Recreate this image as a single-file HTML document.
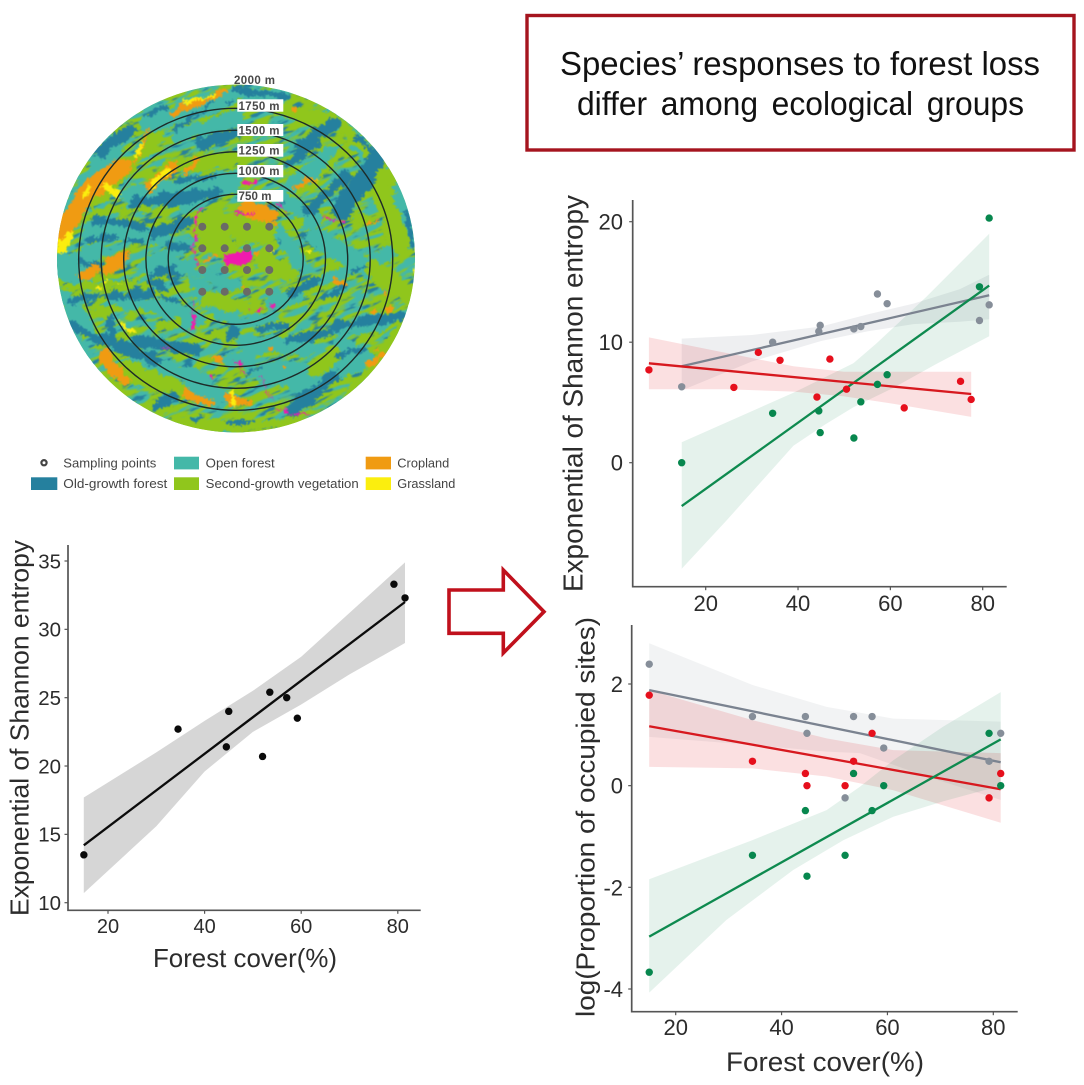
<!DOCTYPE html>
<html lang="en">
<head>
<meta charset="utf-8">
<title>Species' responses to forest loss</title>
<style>
html,body{margin:0;padding:0;background:#fff;}
svg{display:block;font-family:"Liberation Sans",sans-serif;}
#map-patches path{fill:none;stroke-linecap:round;stroke-linejoin:round;}
.t path{stroke:#44b8a8}.d path{stroke:#25809e}.o path{stroke:#f09b12}.y path{stroke:#fbee0e}.g path{stroke:#90c61c}.m path{stroke:#f01aae}
.ax{stroke:#555;stroke-width:1.7;fill:none}
.legend text{font-size:13px;fill:#444}
.ring{fill:none;stroke:#1d2b28;stroke-width:1.4}
.rl{font-size:11.5px;font-weight:bold;fill:#484848}
</style>
</head>
<body>
<svg id="figure" width="1084" height="1085" viewBox="0 0 1084 1085" xmlns="http://www.w3.org/2000/svg">
<defs>
<clipPath id="mapClip"><ellipse cx="236" cy="258.5" rx="179" ry="174"/></clipPath>
<filter id="rough" filterUnits="userSpaceOnUse" x="30" y="60" width="410" height="400" color-interpolation-filters="sRGB">
<feTurbulence type="fractalNoise" baseFrequency="0.09" numOctaves="2" seed="7" result="n1"/>
<feDisplacementMap in="SourceGraphic" in2="n1" scale="11" xChannelSelector="R" yChannelSelector="G" result="s1"/>
<feTurbulence type="fractalNoise" baseFrequency="0.38" numOctaves="2" seed="3" result="n2"/>
<feDisplacementMap in="s1" in2="n2" scale="7" xChannelSelector="G" yChannelSelector="R"/>
<feGaussianBlur stdDeviation="0.45"/>
</filter>
<filter id="speckleTeal" filterUnits="userSpaceOnUse" x="-100" y="-100" width="700" height="700" color-interpolation-filters="sRGB">
<feTurbulence type="fractalNoise" baseFrequency="0.035 0.13" numOctaves="3" seed="11"/>
<feColorMatrix type="matrix" values="0 0 0 0 .267  0 0 0 0 .722  0 0 0 0 .659  9 0 0 0 -4.3"/>
<feGaussianBlur stdDeviation="0.4"/>
</filter>
<filter id="speckleDark" filterUnits="userSpaceOnUse" x="-100" y="-100" width="700" height="700" color-interpolation-filters="sRGB">
<feTurbulence type="fractalNoise" baseFrequency="0.05 0.2" numOctaves="3" seed="23"/>
<feColorMatrix type="matrix" values="0 0 0 0 .145  0 0 0 0 .502  0 0 0 0 .62  9 0 0 0 -5.6"/>
<feGaussianBlur stdDeviation="0.4"/>
</filter>
</defs>

<rect width="1084" height="1085" fill="#fff"/>

<!-- Land cover map -->
<g clip-path="url(#mapClip)">
<ellipse cx="236" cy="258.5" rx="179" ry="174" fill="#90c61c"/>
<g transform="rotate(-22 236 258)">
<rect x="20" y="40" width="440" height="440" fill="#000" filter="url(#speckleTeal)"/>
<rect x="20" y="40" width="440" height="440" fill="#000" filter="url(#speckleDark)"/>
</g>
<g id="map-patches" filter="url(#rough)">
<g transform="translate(50,80) scale(.3333)">
<g class="t">
<path stroke-width="60" d="M45 420L190 210"/><path stroke-width="60" d="M300 130L540 50"/><path stroke-width="50" d="M20 560L150 510"/>
<path stroke-width="70" d="M250 350L540 310"/><path stroke-width="50" d="M120 450L340 470"/><path stroke-width="40" d="M300 550L420 490"/>
<path stroke-width="30" d="M400 380L460 350"/><path stroke-width="40" d="M380 170L560 110"/>
</g>
<g class="g">
<path stroke-width="70" d="M440 430L560 540"/><path stroke-width="40" d="M350 260L550 240"/><path stroke-width="32" d="M130 370L330 170"/><path stroke-width="15" d="M130 395L300 385"/>
</g>
<g class="o">
<path stroke-width="55" d="M30 470L110 340L215 262"/><path stroke-width="20" d="M370 100L530 30"/><path stroke-width="30" d="M180 550L225 525"/>
<path stroke-width="10" d="M250 250L300 150"/><path stroke-width="30" d="M300 320L370 260"/><path stroke-width="15" d="M410 280L440 240"/>
</g>
<g class="y">
<path stroke-width="25" d="M25 510L60 470"/><path stroke-width="25" d="M165 320L205 345"/><path stroke-width="8" d="M100 350L120 320"/>
<path stroke-width="18" d="M300 320L350 275"/><path stroke-width="10" d="M255 240L275 190"/><path stroke-width="8" d="M400 70L500 40"/>
</g>
<g class="d">
<path stroke-width="34" d="M150 215L240 150"/><path stroke-width="14" d="M290 105L350 80"/><path stroke-width="12" d="M375 150L450 100"/>
<path stroke-width="38" d="M460 190L560 160"/><path stroke-width="10" d="M420 120L490 70"/><path stroke-width="16" d="M380 300L500 290"/>
<path stroke-width="32" d="M250 370L500 340"/><path stroke-width="26" d="M135 420L280 440"/><path stroke-width="34" d="M310 460L420 425"/>
<path stroke-width="18" d="M110 480L200 470"/><path stroke-width="20" d="M90 545L150 558"/><path stroke-width="22" d="M350 500L420 505"/>
<path stroke-width="28" d="M310 555L350 550"/><path stroke-width="14" d="M230 480L270 485"/><path stroke-width="25" d="M540 60L560 40"/>
</g>
</g>
<g transform="translate(230,80) scale(.3333)">
<g class="t">
<path stroke-width="40" d="M0 40L160 50"/><path stroke-width="50" d="M190 310L300 225"/><path stroke-width="45" d="M370 170L540 400"/>
<path stroke-width="50" d="M150 350L250 420"/><path stroke-width="30" d="M130 450L230 560"/><path stroke-width="60" d="M260 470L420 570"/>
<path stroke-width="40" d="M440 540L540 480"/><path stroke-width="40" d="M510 430L550 470"/>
</g>
<g class="g">
<path stroke-width="60" d="M440 280L510 490"/><path stroke-width="30" d="M310 105L490 300"/><path stroke-width="40" d="M150 90L300 120"/>
<path stroke-width="25" d="M340 400L420 420"/><path stroke-width="16" d="M250 320L360 180"/><path stroke-width="30" d="M130 440L210 430"/>
</g>
<g class="d">
<path stroke-width="20" d="M20 30L170 50"/><path stroke-width="30" d="M210 190L320 130"/><path stroke-width="26" d="M170 250L260 190"/>
<path stroke-width="58" d="M335 390L435 245"/><path stroke-width="30" d="M290 340L350 290"/><path stroke-width="24" d="M230 400L290 340"/>
<path stroke-width="14" d="M530 400L550 500"/><path stroke-width="20" d="M380 175L430 215"/><path stroke-width="6" d="M130 390L170 370"/><path stroke-width="6" d="M145 480L170 490"/>
</g>
<g class="o">
<path stroke-width="16" d="M200 320L250 300"/><path stroke-width="8" d="M190 85L200 80"/><path stroke-width="12" d="M420 430L440 425"/><path stroke-width="40" d="M60 400L120 440"/>
</g>
<g class="y">
<path stroke-width="8" d="M255 297h1"/><path stroke-width="10" d="M125 520h1"/><path stroke-width="8" d="M230 515h1"/>
</g>
<g class="m">
<path stroke-width="4" d="M270 415L290 420L345 425"/><path stroke-width="3" d="M140 370L165 395"/><path stroke-width="10" d="M45 305L70 302"/><path stroke-width="4" d="M20 400L70 400"/>
</g>
</g>
<g transform="translate(50,260) scale(.3333)">
<g class="t">
<path stroke-width="55" d="M20 20L100 50"/><path stroke-width="50" d="M30 100L120 210"/><path stroke-width="50" d="M320 140L440 180"/>
<path stroke-width="40" d="M260 300L470 360"/><path stroke-width="40" d="M420 380L560 420"/><path stroke-width="40" d="M440 100L560 190"/>
<path stroke-width="30" d="M200 130L380 150"/><path stroke-width="30" d="M60 200L110 300"/><path stroke-width="40" d="M280 20L420 10"/><path stroke-width="30" d="M420 60L470 80"/>
</g>
<g class="g">
<path stroke-width="55" d="M230 330L380 390"/><path stroke-width="40" d="M380 490L560 500"/><path stroke-width="25" d="M140 140L170 170"/>
<path stroke-width="25" d="M50 80L250 70"/><path stroke-width="30" d="M330 200L380 190"/><path stroke-width="25" d="M500 220L530 240"/>
</g>
<g class="o">
<path stroke-width="30" d="M100 50L140 30"/><path stroke-width="25" d="M170 30L220 10"/><path stroke-width="38" d="M165 290L220 360"/>
<path stroke-width="32" d="M410 400L470 430"/><path stroke-width="18" d="M490 300L570 310"/>
</g>
<g class="d">
<path stroke-width="18" d="M60 120L130 110"/><path stroke-width="26" d="M170 110L300 100"/><path stroke-width="30" d="M310 40L400 30"/>
<path stroke-width="26" d="M60 190L140 240"/><path stroke-width="36" d="M160 240L320 300"/><path stroke-width="34" d="M260 240L440 270"/>
<path stroke-width="20" d="M180 180L190 230"/><path stroke-width="28" d="M320 440L370 410"/><path stroke-width="12" d="M430 480L460 470"/>
<path stroke-width="16" d="M340 110L390 130"/><path stroke-width="25" d="M530 220L555 210"/><path stroke-width="20" d="M300 65L340 80"/>
</g>
<g class="y">
<path stroke-width="9" d="M215 190L250 215"/><path stroke-width="14" d="M150 85h1"/><path stroke-width="8" d="M205 75h1"/><path stroke-width="12" d="M540 400L545 430"/><path stroke-width="10" d="M170 65h1"/>
</g>
<g class="m">
<path stroke-width="10" d="M430 205L430 170"/><path stroke-width="16" d="M483 350h1"/><path stroke-width="3" d="M325 262L350 265"/><path stroke-width="3" d="M430 130L425 160"/><path stroke-width="10" d="M550 140L570 150"/>
</g>
</g>
<g transform="translate(230,260) scale(.3333)">
<g class="t">
<path stroke-width="60" d="M200 370L400 300"/><path stroke-width="30" d="M20 190L130 170"/><path stroke-width="55" d="M50 250L230 260"/>
<path stroke-width="40" d="M330 210L460 190"/><path stroke-width="30" d="M280 60L400 20"/><path stroke-width="40" d="M330 250L430 300"/>
<path stroke-width="40" d="M120 130L200 110"/><path stroke-width="40" d="M0 300L60 290"/><path stroke-width="70" d="M110 340L210 340"/>
</g>
<g class="g">
<path stroke-width="45" d="M260 330L310 290"/><path stroke-width="40" d="M350 430L540 180"/><path stroke-width="55" d="M430 30L540 100"/><path stroke-width="25" d="M0 505L200 485"/>
</g>
<g class="d">
<path stroke-width="40" d="M190 450L310 350"/><path stroke-width="26" d="M310 200L510 170"/><path stroke-width="26" d="M180 240L300 215"/>
<path stroke-width="20" d="M90 205L170 200"/><path stroke-width="26" d="M180 100L260 60"/><path stroke-width="15" d="M280 110L340 80"/>
<path stroke-width="28" d="M0 230L20 220"/><path stroke-width="12" d="M0 490L70 480"/><path stroke-width="8" d="M50 340L100 320"/>
<path stroke-width="10" d="M320 290L400 270"/><path stroke-width="10" d="M370 40L410 20"/>
</g>
<g class="o">
<path stroke-width="18" d="M415 310L470 285"/><path stroke-width="16" d="M430 155h1"/><path stroke-width="16" d="M480 150h1"/><path stroke-width="14" d="M465 95h1"/>
<path stroke-width="14" d="M120 275h1"/><path stroke-width="12" d="M160 315h1"/><path stroke-width="30" d="M0 420L50 430"/><path stroke-width="20" d="M310 60L340 70"/><path stroke-width="12" d="M440 265h1"/>
</g>
<g class="y"><path stroke-width="15" d="M0 400L15 430"/><path stroke-width="12" d="M545 30h1"/></g>
<g class="m">
<path stroke-width="7" d="M0 140L60 150"/><path stroke-width="10" d="M90 150h1"/><path stroke-width="14" d="M125 140h1"/><path stroke-width="3" d="M90 350L130 430"/>
<path stroke-width="5" d="M140 450L240 470"/><path stroke-width="5" d="M20 300L40 340"/>
</g>
</g>
<g transform="translate(30,60) scale(.3333)">
<g class="g"><path stroke-width="70" d="M530 480L700 520"/><path stroke-width="50" d="M700 600L780 640"/><path stroke-width="40" d="M530 720L640 740"/></g>
<g class="t"><path stroke-width="26" d="M450 620L620 680"/><path stroke-width="24" d="M750 500L800 620"/></g>
<g class="o"><path stroke-width="40" d="M650 440L720 460"/><path stroke-width="8" d="M520 600L560 590"/><path stroke-width="14" d="M680 580h1"/><path stroke-width="12" d="M640 680h1"/></g>
<g class="m"><path stroke-width="4" d="M510 440L490 560L500 620"/><path stroke-width="36" d="M600 598L650 590"/><path stroke-width="6" d="M620 470L670 460"/></g>
</g>
</g>
</g>

<g fill="#6a6a66">
<circle cx="202.3" cy="226.7" r="4"/><circle cx="224.7" cy="226.7" r="4"/><circle cx="247" cy="226.7" r="4"/><circle cx="269.3" cy="226.7" r="4"/>
<circle cx="202.3" cy="248.3" r="4"/><circle cx="224.7" cy="248.3" r="4"/><circle cx="247" cy="248.3" r="4"/><circle cx="269.3" cy="248.3" r="4"/>
<circle cx="202.3" cy="270" r="4"/><circle cx="224.7" cy="270" r="4"/><circle cx="247" cy="270" r="4"/><circle cx="269.3" cy="270" r="4"/>
<circle cx="202.3" cy="291.7" r="4"/><circle cx="224.7" cy="291.7" r="4"/><circle cx="247" cy="291.7" r="4"/><circle cx="269.3" cy="291.7" r="4"/>
</g>

<g>
<ellipse class="ring" cx="235.7" cy="259.3" rx="67.5" ry="65"/>
<ellipse class="ring" cx="235.7" cy="259.3" rx="89.8" ry="86"/>
<ellipse class="ring" cx="235.7" cy="259.3" rx="112" ry="107.5"/>
<ellipse class="ring" cx="235.7" cy="259.3" rx="134.5" ry="129"/>
<ellipse class="ring" cx="235.7" cy="259.3" rx="157" ry="151"/>
</g>
<g>
<rect x="237.3" y="190" width="46" height="11.7" fill="#fff"/><rect x="237.3" y="165" width="46" height="12.3" fill="#fff"/>
<rect x="237.3" y="144" width="46" height="12.7" fill="#fff"/><rect x="237.3" y="124" width="46" height="12" fill="#fff"/>
<rect x="237.3" y="99.3" width="46" height="12.4" fill="#fff"/>
<text class="rl" x="234" y="84" textLength="41">2000 m</text>
<text class="rl" x="238.5" y="110" textLength="41">1750 m</text>
<text class="rl" x="238.5" y="134.5" textLength="41">1500 m</text>
<text class="rl" x="238.5" y="154.5" textLength="41">1250 m</text>
<text class="rl" x="238.5" y="175" textLength="41">1000 m</text>
<text class="rl" x="238.5" y="200" textLength="33">750 m</text>
</g>

<!-- Map legend -->
<g class="legend">
<circle cx="44" cy="462.7" r="2.6" fill="#fff" stroke="#444" stroke-width="2.2"/>
<text x="63.3" y="467.5" textLength="93" lengthAdjust="spacingAndGlyphs">Sampling points</text>
<rect x="31" y="477.3" width="26.3" height="12.7" fill="#25809e"/>
<text x="63.3" y="488" textLength="104" lengthAdjust="spacingAndGlyphs">Old-growth forest</text>
<rect x="174" y="456.7" width="25" height="12.7" fill="#44b8a8"/>
<text x="205.7" y="467.5" textLength="69" lengthAdjust="spacingAndGlyphs">Open forest</text>
<rect x="174" y="477.3" width="25" height="12.7" fill="#90c61c"/>
<text x="205.7" y="488" textLength="153" lengthAdjust="spacingAndGlyphs">Second-growth vegetation</text>
<rect x="365.7" y="456.7" width="25.3" height="12.7" fill="#f09b12"/>
<text x="397.3" y="467.5" textLength="52" lengthAdjust="spacingAndGlyphs">Cropland</text>
<rect x="365.7" y="477.3" width="25.3" height="12.7" fill="#fbee0e"/>
<text x="397.3" y="488" textLength="58" lengthAdjust="spacingAndGlyphs">Grassland</text>
</g>

<!-- Title box -->
<g>
<rect x="527" y="15.5" width="547" height="134.5" fill="#fff" stroke="#a5141e" stroke-width="3.4"/>
<text x="560" y="75" font-size="33" fill="#111" textLength="480" lengthAdjust="spacingAndGlyphs">Species’ responses to forest loss</text>
<text x="577" y="115" font-size="33" fill="#111" textLength="447" lengthAdjust="spacingAndGlyphs" word-spacing="5">differ among ecological groups</text>
</g>

<!-- Arrow -->
<polygon points="449,590 503.3,590 503.3,570 544,611.7 503.3,653 503.3,633.3 449,633.3" fill="#fff" stroke="#c0101c" stroke-width="3.6"/>

<!-- Chart layers -->
<g id="chart-left">
<path class="ax" d="M68 545V910.3H420.7"/>
<text transform="translate(28.5,728) rotate(-90)" text-anchor="middle" font-size="26" fill="#2c2c2c" textLength="376" lengthAdjust="spacingAndGlyphs">Exponential of Shannon entropy</text>
<text x="245" y="967" text-anchor="middle" font-size="26" fill="#2c2c2c" textLength="184" lengthAdjust="spacingAndGlyphs">Forest cover(%)</text>
</g>
<g id="chart-top">
<path class="ax" d="M632.7 200V586.7H1006.7"/>
<text transform="translate(582.7,393.5) rotate(-90)" text-anchor="middle" font-size="27.5" fill="#2c2c2c" textLength="397" lengthAdjust="spacingAndGlyphs">Exponential of Shannon entropy</text>
</g>
<g id="chart-bottom">
<path class="ax" d="M631.7 625V1011.7H1017.7"/>
<text transform="translate(594.3,817) rotate(-90)" text-anchor="middle" font-size="26" fill="#2c2c2c" textLength="400" lengthAdjust="spacingAndGlyphs">log(Proportion of occupied sites)</text>
<text x="825" y="1071" text-anchor="middle" font-size="27" fill="#2c2c2c" textLength="198" lengthAdjust="spacingAndGlyphs">Forest cover(%)</text>
</g>
</svg>

<script>
// ---- Left chart data ----
const leftXTicks = [20, 40, 60, 80];
const leftYTicks = [10, 15, 20, 25, 30, 35];
const leftPointX = [15, 34.5, 44.5, 45, 52, 53.5, 57, 59.2, 79.2, 81.5];
const leftPointY = [13.5, 22.7, 21.4, 24, 20.7, 25.4, 25, 23.5, 33.3, 32.3];
const leftLineX = [15, 81.5];
const leftLineY = [14.2, 32];
const leftUpperX = [15, 30, 40, 50, 60, 70, 81.5];
const leftUpperY = [17.7, 21, 23.3, 25.5, 28, 31.2, 34.9];
const leftLowerX = [15, 30, 40, 50, 60, 70, 81.5];
const leftLowerY = [10.7, 15.6, 19.6, 22.5, 24.5, 26.7, 29];

// ---- Top right chart data ----
const topXTicks = [20, 40, 60, 80];
const topYTicks = [0, 10, 20];
const topGrayX = [14.8, 34.5, 44.5, 44.8, 52.1, 53.6, 57.2, 59.3, 79.3, 81.4];
const topGrayY = [6.3, 10, 10.9, 11.4, 11.1, 11.3, 14, 13.2, 11.8, 13.1];
const topGreenX = [14.8, 34.5, 44.5, 44.8, 52.1, 53.6, 57.2, 59.3, 79.3, 81.4];
const topGreenY = [0, 4.1, 4.3, 2.5, 2.05, 5.05, 6.5, 7.3, 14.6, 20.3];
const topRedX = [7.7, 26.1, 31.4, 36.1, 44.1, 46.9, 50.5, 63, 75.2, 77.5];
const topRedY = [7.7, 6.25, 9.15, 8.5, 5.45, 8.6, 6.1, 4.55, 6.75, 5.25];
const topGrayLineX = [14.8, 81.4];
const topGrayLineY = [8, 13.9];
const topGreenLineX = [14.8, 81.4];
const topGreenLineY = [-3.6, 14.7];
const topRedLineX = [7.7, 77.5];
const topRedLineY = [8.25, 5.7];
const topGrayBandX = [14.8, 30, 45, 55, 65, 75, 81.4];
const topGrayUpper = [10.3, 10.6, 11.3, 12.3, 13.2, 14.4, 15.6];
const topGrayLower = [6, 8.4, 10.1, 10.9, 11.5, 11.7, 11.9];
const topGreenUpperX = [14.8, 39, 52, 57, 67.9, 81.4];
const topGreenUpper = [1.7, 5.8, 8.25, 9.9, 13.8, 19];
const topGreenLowerX = [14.8, 24.5, 39, 46, 52, 60.6, 70, 81.4];
const topGreenLower = [-8.8, -4.8, 1.4, 3.2, 4.6, 6.2, 8.2, 10.5];
const topRedBandX = [7.7, 24.5, 39, 50, 60.6, 77.5];
const topRedUpper = [10.4, 9.1, 8, 7.55, 7.55, 7.55];
const topRedLower = [6.1, 6.1, 5.9, 5.5, 4.9, 3.8];

// ---- Bottom right chart data ----
const bottomXTicks = [20, 40, 60, 80];
const bottomYTicks = [-4, -2, 0, 2];
const bottomGrayX = [15, 34.5, 44.5, 44.8, 52, 53.6, 57.1, 59.3, 79.2, 81.4];
const bottomGrayY = [2.39, 1.36, 1.36, 1.03, -0.24, 1.36, 1.36, 0.74, 0.48, 1.03];
const bottomRedX = [15, 34.5, 44.5, 44.8, 52, 53.6, 57.1, 79.2, 81.4];
const bottomRedY = [1.78, 0.48, 0.24, 0, 0, 0.48, 1.03, -0.24, 0.24];
const bottomGreenX = [15, 34.5, 44.5, 44.8, 52, 53.6, 57.1, 59.3, 79.2, 81.4];
const bottomGreenY = [-3.67, -1.37, -0.49, -1.78, -1.37, 0.24, -0.49, 0, 1.03, 0];
const bottomGrayLineX = [15, 81.4];
const bottomGrayLineY = [1.88, 0.46];
const bottomRedLineX = [15, 81.4];
const bottomRedLineY = [1.17, -0.07];
const bottomGreenLineX = [15, 81.4];
const bottomGreenLineY = [-2.97, 0.91];
const bottomGrayUpperX = [15, 34.5, 48.5, 61.1, 81.4];
const bottomGrayUpper = [2.8, 1.98, 1.55, 1.32, 1.26];
const bottomGrayLowerX = [15, 34.5, 48.5, 54.8, 67.4, 81.4];
const bottomGrayLower = [0.96, 0.8, 0.67, 0.64, 0.18, -0.28];
const bottomRedBandX = [15, 34.5, 48.5, 61.1, 81.4];
const bottomRedUpper = [1.88, 1.29, 0.93, 0.7, 0.64];
const bottomRedLower = [0.37, 0.34, 0.18, -0.09, -0.73];
const bottomGreenUpperX = [15, 34.5, 48.5, 54.8, 61.1, 70.5, 81.4];
const bottomGreenUpper = [-1.84, -1.07, -0.48, -0.02, 0.5, 1.16, 1.84];
const bottomGreenLowerX = [15, 29.6, 42.2, 51.7, 61.1, 70.5, 81.4];
const bottomGreenLower = [-4.07, -2.64, -1.66, -1.07, -0.61, -0.31, 0];

// ---- Axis functions ----
function linearScale(d0, d1, r0, r1) {
  return function (v) { return r0 + (v - d0) * (r1 - r0) / (d1 - d0); };
}
const leftX = linearScale(20, 80, 108, 397.8);
const leftY = linearScale(10, 35, 902.7, 561);
const topX = linearScale(20, 80, 705.7, 982.7);
const topY = linearScale(0, 20, 462.7, 221.7);
const bottomX = linearScale(20, 80, 675.7, 993.3);
const bottomY = linearScale(-4, 2, 989, 684);

const NS = 'http://www.w3.org/2000/svg';
function make(tag, parent) {
  const node = document.createElementNS(NS, tag);
  parent.appendChild(node);
  return node;
}
function linePath(xs, ys, sx, sy) {
  return xs.map(function (x, i) { return (i ? 'L' : 'M') + sx(x).toFixed(1) + ' ' + sy(ys[i]).toFixed(1); }).join('');
}
function bandPath(ux, uy, lx, ly, sx, sy) {
  const top = linePath(ux, uy, sx, sy);
  const rx = lx.slice().reverse();
  const ry = ly.slice().reverse();
  return top + linePath(rx, ry, sx, sy).replace('M', 'L') + 'Z';
}
function drawBand(parent, ux, uy, lx, ly, sx, sy, color, opacity) {
  const band = make('path', parent);
  
  
  band.setAttribute('d', bandPath(ux, uy, lx, ly, sx, sy));
  band.setAttribute('fill', color);
  band.setAttribute('fill-opacity', opacity);
}
function drawLine(parent, xs, ys, sx, sy, color) {
  const line = make('path', parent);
  
  
  line.setAttribute('d', linePath(xs, ys, sx, sy));
  line.setAttribute('fill', 'none');
  line.setAttribute('stroke', color);
  line.setAttribute('stroke-width', '2.3');
}
function drawPoints(parent, xs, ys, sx, sy, color, radius) {
  xs.forEach(function (x, i) {
    const dot = make('circle', parent);
    
    
    dot.setAttribute('cx', sx(x));
    dot.setAttribute('cy', sy(ys[i]));
    dot.setAttribute('r', radius);
    dot.setAttribute('fill', color);
  });
}
function drawXTicks(parent, ticks, sx, axisY, labelY, size) {
  ticks.forEach(function (t) {
    const mark = make('line', parent);
    
    
    mark.setAttribute('x1', sx(t));
    mark.setAttribute('x2', sx(t));
    mark.setAttribute('y1', axisY);
    mark.setAttribute('y2', axisY + 3.5);
    mark.setAttribute('stroke', '#555');
    mark.setAttribute('stroke-width', '1.2');
    const label = make('text', parent);
    
    
    label.setAttribute('x', sx(t));
    label.setAttribute('y', labelY);
    label.setAttribute('text-anchor', 'middle');
    label.setAttribute('font-size', size);
    label.setAttribute('fill', '#2c2c2c');
    label.textContent = t;
  });
}
function drawYTicks(parent, ticks, sy, axisX, labelX, size) {
  ticks.forEach(function (t) {
    const mark = make('line', parent);
    
    
    mark.setAttribute('x1', axisX - 3.5);
    mark.setAttribute('x2', axisX);
    mark.setAttribute('y1', sy(t));
    mark.setAttribute('y2', sy(t));
    mark.setAttribute('stroke', '#555');
    mark.setAttribute('stroke-width', '1.2');
    const label = make('text', parent);
    
    
    label.setAttribute('x', labelX);
    label.setAttribute('y', sy(t) + size * 0.36);
    label.setAttribute('text-anchor', 'end');
    label.setAttribute('font-size', size);
    label.setAttribute('fill', '#2c2c2c');
    label.textContent = t;
  });
}

const GRAY_BAND = '#7d8794', RED_BAND = '#e5202a', GREEN_BAND = '#0e8a4f';
const GRAY_LINE = '#7b8390', RED_LINE = '#d7191f', GREEN_LINE = '#0e8a4f';
const GRAY_DOT = '#868e99', RED_DOT = '#e60f1c', GREEN_DOT = '#07874e';
const DOT_R = 3.7;

// Left chart
const leftG = document.getElementById('chart-left');
drawBand(leftG, leftUpperX, leftUpperY, leftLowerX, leftLowerY, leftX, leftY, '#d6d6d6', 1);
drawLine(leftG, leftLineX, leftLineY, leftX, leftY, '#0c0c0c');
drawPoints(leftG, leftPointX, leftPointY, leftX, leftY, '#0a0a0a', DOT_R);
drawXTicks(leftG, leftXTicks, leftX, 910.3, 933, 20);
drawYTicks(leftG, leftYTicks, leftY, 68, 61, 20.5);

// Top right chart
const topG = document.getElementById('chart-top');
drawBand(topG, topGrayBandX, topGrayUpper, topGrayBandX, topGrayLower, topX, topY, GRAY_BAND, 0.13);
drawBand(topG, topGreenUpperX, topGreenUpper, topGreenLowerX, topGreenLower, topX, topY, GREEN_BAND, 0.11);
drawBand(topG, topRedBandX, topRedUpper, topRedBandX, topRedLower, topX, topY, RED_BAND, 0.14);
drawLine(topG, topGrayLineX, topGrayLineY, topX, topY, GRAY_LINE);
drawLine(topG, topGreenLineX, topGreenLineY, topX, topY, GREEN_LINE);
drawLine(topG, topRedLineX, topRedLineY, topX, topY, RED_LINE);
drawPoints(topG, topGrayX, topGrayY, topX, topY, GRAY_DOT, DOT_R);
drawPoints(topG, topGreenX, topGreenY, topX, topY, GREEN_DOT, DOT_R);
drawPoints(topG, topRedX, topRedY, topX, topY, RED_DOT, DOT_R);
drawXTicks(topG, topXTicks, topX, 586.7, 611, 22);
drawYTicks(topG, topYTicks, topY, 632.7, 623, 22);

// Bottom right chart
const bottomG = document.getElementById('chart-bottom');
drawBand(bottomG, bottomGrayUpperX, bottomGrayUpper, bottomGrayLowerX, bottomGrayLower, bottomX, bottomY, GRAY_BAND, 0.1);
drawBand(bottomG, bottomRedBandX, bottomRedUpper, bottomRedBandX, bottomRedLower, bottomX, bottomY, RED_BAND, 0.14);
drawBand(bottomG, bottomGreenUpperX, bottomGreenUpper, bottomGreenLowerX, bottomGreenLower, bottomX, bottomY, GREEN_BAND, 0.11);
drawLine(bottomG, bottomGrayLineX, bottomGrayLineY, bottomX, bottomY, GRAY_LINE);
drawLine(bottomG, bottomRedLineX, bottomRedLineY, bottomX, bottomY, RED_LINE);
drawLine(bottomG, bottomGreenLineX, bottomGreenLineY, bottomX, bottomY, GREEN_LINE);
drawPoints(bottomG, bottomGrayX, bottomGrayY, bottomX, bottomY, GRAY_DOT, DOT_R);
drawPoints(bottomG, bottomRedX, bottomRedY, bottomX, bottomY, RED_DOT, DOT_R);
drawPoints(bottomG, bottomGreenX, bottomGreenY, bottomX, bottomY, GREEN_DOT, DOT_R);
drawXTicks(bottomG, bottomXTicks, bottomX, 1011.7, 1035, 22);
drawYTicks(bottomG, bottomYTicks, bottomY, 631.7, 623, 22);
</script>
</body>
</html>
